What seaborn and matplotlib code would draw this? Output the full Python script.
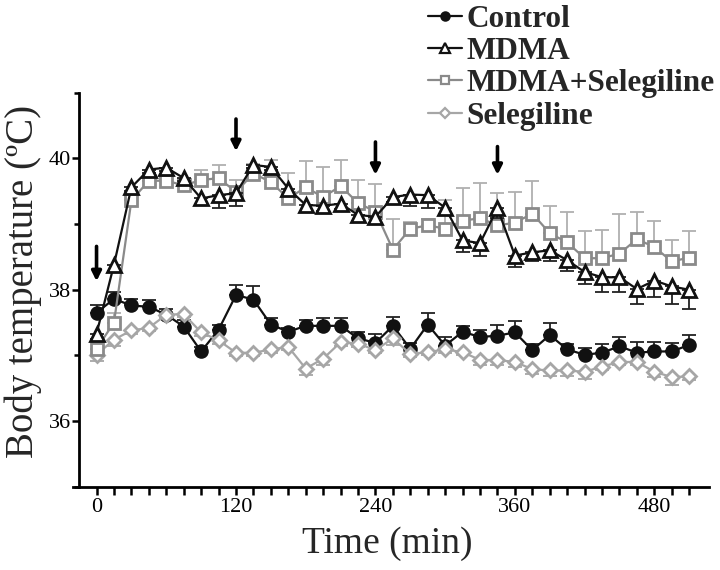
import pandas as pd
import matplotlib
matplotlib.use("Agg")
import matplotlib.pyplot as plt
from matplotlib.lines import Line2D
from matplotlib.ticker import FixedLocator
import seaborn as sns

# --- data (time in min, temperature in deg C) ---
time_min = [0, 15, 30, 45, 60, 75, 90, 105, 120, 135, 150, 165, 180, 195, 210,
            225, 240, 255, 270, 285, 300, 315, 330, 345, 360, 375, 390, 405,
            420, 435, 450, 465, 480, 495, 510]

control = [37.65, 37.86, 37.76, 37.74, 37.62, 37.44, 37.06, 37.39, 37.92, 37.85,
           37.47, 37.36, 37.45, 37.45, 37.45, 37.26, 37.19, 37.45, 37.10, 37.47,
           37.15, 37.36, 37.28, 37.30, 37.35, 37.08, 37.31, 37.09, 37.01, 37.04,
           37.14, 37.04, 37.06, 37.06, 37.16]
control_err = [0.12, 0.10, 0.10, 0.10, 0.08, 0.10, 0.07, 0.08, 0.15, 0.21, 0.10,
               0.05, 0.09, 0.12, 0.12, 0.10, 0.14, 0.13, 0.09, 0.17, 0.13, 0.09,
               0.10, 0.17, 0.17, 0.10, 0.19, 0.09, 0.10, 0.13, 0.14, 0.17, 0.14,
               0.13, 0.15]

mdma = [37.33, 38.38, 39.56, 39.83, 39.86, 39.70, 39.39, 39.44, 39.47, 39.90,
        39.87, 39.54, 39.29, 39.28, 39.31, 39.14, 39.11, 39.41, 39.45, 39.44,
        39.25, 38.75, 38.71, 39.24, 38.52, 38.57, 38.60, 38.45, 38.27, 38.19,
        38.19, 38.01, 38.14, 38.05, 38.00]
mdma_err = [0.08, 0.10, 0.05, 0.05, 0.05, 0.05, 0.10, 0.20, 0.20, 0.05, 0.05,
            0.10, 0.10, 0.08, 0.08, 0.10, 0.10, 0.08, 0.18, 0.20, 0.10, 0.17,
            0.19, 0.15, 0.18, 0.14, 0.16, 0.16, 0.18, 0.22, 0.23, 0.23, 0.25,
            0.26, 0.29]

mdma_sel = [37.10, 37.50, 39.36, 39.66, 39.66, 39.59, 39.67, 39.70, 39.49, 39.77,
            39.64, 39.39, 39.56, 39.41, 39.58, 39.32, 39.19, 38.61, 38.93, 38.98,
            38.93, 39.05, 39.09, 38.98, 39.02, 39.16, 38.86, 38.72, 38.48, 38.48,
            38.55, 38.77, 38.65, 38.43, 38.49]
mdma_sel_err = [0.10, 0.15, 0.10, 0.05, 0.05, 0.05, 0.15, 0.20, 0.18, 0.15, 0.34,
                0.39, 0.40, 0.46, 0.40, 0.35, 0.42, 0.47, 0.10, 0.10, 0.44, 0.50,
                0.54, 0.50, 0.47, 0.49, 0.42, 0.46, 0.42, 0.43, 0.60, 0.42, 0.40,
                0.33, 0.41]

selegiline = [37.01, 37.24, 37.38, 37.42, 37.62, 37.63, 37.35, 37.23, 37.04, 37.04,
              37.09, 37.13, 36.80, 36.95, 37.20, 37.18, 37.08, 37.26, 37.02, 37.05,
              37.09, 37.05, 36.93, 36.93, 36.90, 36.79, 36.77, 36.77, 36.75, 36.83,
              36.90, 36.90, 36.75, 36.67, 36.68]
selegiline_err = [0.10, 0.10, 0.05, 0.05, 0.05, 0.05, 0.05, 0.05, 0.05, 0.05, 0.05,
                  0.05, 0.10, 0.10, 0.05, 0.05, 0.05, 0.10, 0.05, 0.05, 0.05, 0.05,
                  0.08, 0.08, 0.08, 0.08, 0.08, 0.08, 0.11, 0.05, 0.05, 0.05, 0.08,
                  0.12, 0.05]

# injection arrows: time, top and tip (deg C)
arrow_times = [0, 120, 240, 345]
arrow_tops = [38.66, 40.60, 40.25, 40.18]
arrow_tips = [38.13, 40.11, 39.75, 39.75]

group_names = ["Control", "MDMA", "MDMA+Selegiline", "Selegiline"]
x_major = [0, 120, 240, 360, 480]
x_minor = [15, 30, 45, 60, 75, 90, 105, 135, 150, 165, 180, 195, 210, 225,
           255, 270, 285, 300, 315, 330, 345, 375, 390, 405, 420, 435, 450,
           465, 495, 510]
y_major = [36, 38, 40]
y_minor = [35, 37, 39, 41]
y_spine_at = -15

sns.set_style("ticks")
plt.rcParams['font.family'] = ['Liberation Serif', 'DejaVu Serif']
# tick marks are drawn as line collections below, so the axis ticks only carry labels
plt.rcParams.update({
    "xtick.major.size": 0, "xtick.minor.size": 0,
    "ytick.major.size": 0, "ytick.minor.size": 0,
    "xtick.labelcolor": "black", "ytick.labelcolor": "black",
    "xtick.labelsize": 16, "ytick.labelsize": 16,
    "xtick.major.pad": 8, "ytick.major.pad": 6,
    "axes.linewidth": 2.0, "axes.edgecolor": "black",
})

fig = plt.figure(figsize=(7.2, 5.7), dpi=100)
ax = fig.add_axes([0.1018, 0.1461, 0.8829, 0.6912])

# name: (values, err, direction, color, marker, size, facecolor, errcolor, zorder)
series = {
    "Control": (control, control_err, 1, "#111111", "o", 8.5, "#111111", "#222222", 3),
    "Selegiline": (selegiline, selegiline_err, -1, "#a6a6a6", "D", 7.5, "white", "#a6a6a6", 4),
    "MDMA+Selegiline": (mdma_sel, mdma_sel_err, 1, "#8a8a8a", "s", 8.5, "white", "#b0b0b0", 5),
    "MDMA": (mdma, mdma_err, -1, "#111111", "^", 10, "white", "#222222", 6),
}

for name, (vals, err, side, col, mk, ms, fc, ecol, z) in series.items():
    df = pd.DataFrame({"time": time_min, "temp": vals, "err": err})
    lower = [e if side < 0 else 0 for e in err]
    upper = [e if side > 0 else 0 for e in err]
    ax.errorbar(df["time"], df["temp"], yerr=[lower, upper], fmt="none",
                ecolor=ecol, elinewidth=1.3, capsize=5, capthick=1.3, zorder=z - 0.5)
    sns.lineplot(data=df, x="time", y="temp", ax=ax, color=col, lw=1.6,
                 marker=mk, markersize=ms, markerfacecolor=fc,
                 markeredgecolor=col, markeredgewidth=2.0, zorder=z)

for t, top, tip in zip(arrow_times, arrow_tops, arrow_tips):
    ax.annotate("", xy=(t, tip), xytext=(t, top),
                arrowprops=dict(arrowstyle="-|>", color="black", lw=2.6,
                                mutation_scale=14, shrinkA=0, shrinkB=0))

ax.set_xlim(-20, 527)
ax.set_ylim(35, 41)
sns.despine(ax=ax)
ax.spines["left"].set_position(("data", y_spine_at))

ax.xaxis.set_major_locator(FixedLocator(x_major))
ax.xaxis.set_minor_locator(FixedLocator(x_minor))
ax.yaxis.set_major_locator(FixedLocator(y_major))
ax.yaxis.set_minor_locator(FixedLocator(y_minor))

# outward tick marks (x: data position / axes height, y: spine position / data)
tick_len_x = 8.0 / (0.6912 * 570)
ax.vlines(x_major + x_minor, -tick_len_x, 0, transform=ax.get_xaxis_transform(),
          colors="black", lw=1.8, clip_on=False, zorder=10)
x0, x1 = ax.get_xlim()
spine_frac = (y_spine_at - x0) / (x1 - x0)
tick_len_y = 7.0 / (0.8829 * 720)
ax.hlines(y_major, spine_frac - tick_len_y, spine_frac,
          transform=ax.get_yaxis_transform(), colors="black", lw=1.8,
          clip_on=False, zorder=10)
ax.hlines(y_minor, spine_frac - tick_len_y * 0.7, spine_frac,
          transform=ax.get_yaxis_transform(), colors="black", lw=1.8,
          clip_on=False, zorder=10)

ax.set_xlabel("Time (min)", fontsize=27)
ax.set_ylabel("Body temperature (\u00baC)", fontsize=28)
ax.xaxis.set_label_coords(0.4935, -0.1)
ax.yaxis.set_label_coords(-0.05, 0.52)

handles = []
for name in group_names:
    vals, err, side, col, mk, ms, fc, ecol, z = series[name]
    handles.append(Line2D([0], [0], color=col, lw=1.6, marker=mk,
                          markersize=ms * 0.7, markerfacecolor=fc,
                          markeredgecolor=col, markeredgewidth=1.6))
fig.legend(handles, group_names, loc="upper left", bbox_to_anchor=(0.594, 0.991),
           frameon=False, prop={"weight": "bold", "size": 22.5},
           handlelength=1.1, handletextpad=0.15, labelspacing=0.1,
           borderpad=0.0, borderaxespad=0.0)

fig.savefig("out.png", dpi=100)
